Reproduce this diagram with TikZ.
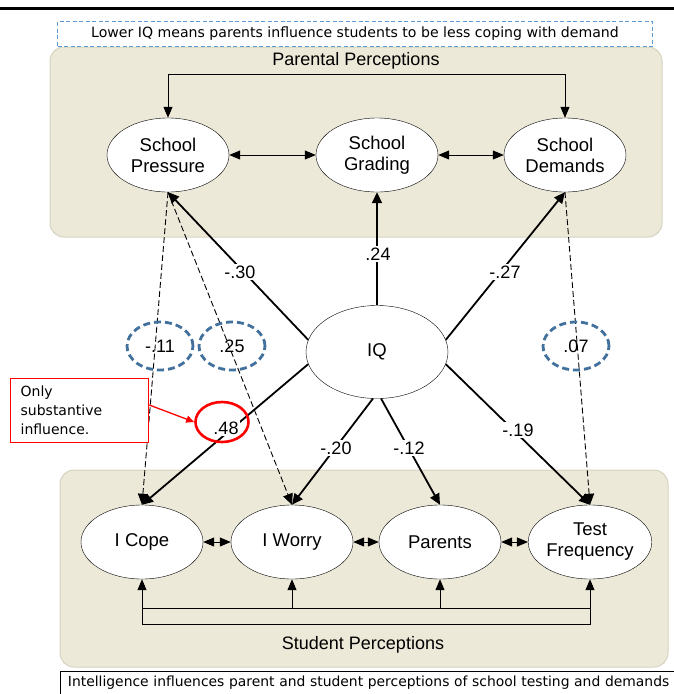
\documentclass[tikz,border=0pt]{standalone}
\usepackage{fontspec}
\setmainfont{Liberation Sans}
\newfontfamily\capfont{DejaVu Sans}
\usetikzlibrary{arrows.meta,shapes,positioning,backgrounds}

\definecolor{panel}{RGB}{236,233,216}
\definecolor{panelline}{RGB}{214,211,192}
\definecolor{boxblue}{RGB}{91,155,213}
\definecolor{ringblue}{RGB}{65,113,156}

\tikzset{
  latent/.style={ellipse, draw, fill=white, inner sep=0pt, minimum width=122pt,
    minimum height=74pt, align=center, font=\fontsize{18.5}{21}\selectfont},
  coef/.style={fill=white, inner sep=1.5pt, font=\fontsize{18}{20}\selectfont},
  ring/.style={ellipse, draw=ringblue, line width=2.8pt, dash pattern=on 7pt off 4pt,
    minimum width=66pt, minimum height=48pt, font=\fontsize{18}{20}\selectfont},
  path/.style={line width=1.8pt, -{Triangle[length=11pt,width=10pt]}},
  weak/.style={line width=0.9pt, dash pattern=on 6pt off 3pt, -{Triangle[length=11pt,width=10pt]}},
  cov/.style={line width=1pt, {Triangle[length=11pt,width=9pt]}-{Triangle[length=11pt,width=9pt]}},
  group/.style={fill=panel, draw=panelline, line width=1pt, rounded corners=14pt},
}

\begin{document}
\begin{tikzpicture}[x=1pt,y=-1pt]
  \useasboundingbox (0,0) rectangle (674,694);
  \draw[line width=3pt] (0,8) -- (674,8);

  % groups
  \draw[group] (50,47) rectangle (662,237);
  \draw[group] (60,470) rectangle (668,667);
  \node[font=\fontsize{18}{20}\selectfont] (parlabel) at (356,61) {Parental Perceptions};
  \node[font=\fontsize{18}{20}\selectfont] (stulabel) at (363,645) {Student Perceptions};

  \node[draw=boxblue, dash pattern=on 4pt off 2.5pt, line width=1.4pt, minimum width=595pt,
    minimum height=25pt, fill=white, font=\capfont\fontsize{14.1}{16}\selectfont] (topnote)
    at (355,34) {Lower IQ means parents influence students to be less coping with demand};

  \node[latent] (sp) at (168,155) {School\\Pressure};
  \node[latent] (sg) at (377,155) {School\\Grading};
  \node[latent] (sd) at (565,155) {School\\Demands};
  \node[latent, minimum width=142pt, minimum height=93pt] (iq) at (377,352) {IQ};
  \node[latent] (cope) at (142,542) {I Cope};
  \node[latent] (worry) at (292,542) {I Worry};
  \node[latent] (parents) at (440,542) {Parents};
  \node[latent] (tf) at (590,542) {Test\\Frequency};

  \draw[cov] (sp.north) -- ++(0,-43) -| (sd.north);
  \draw[cov] (sp) -- (sg);
  \draw[cov] (sg) -- (sd);
  \draw[cov] (cope) -- (worry);
  \draw[cov] (worry) -- (parents);
  \draw[cov] (parents) -- (tf);

  \coordinate (busL) at (142,608);
  \coordinate (busR) at (590,608);
  \draw[cov] (cope.south) -- ++(0,45) -| (tf.south);
  \draw[line width=1pt] (busL) -- (busR);
  \draw[line width=1pt, -{Triangle[length=11pt,width=9pt]}] (worry.south |- busL) -- (worry.south);
  \draw[line width=1pt, -{Triangle[length=11pt,width=9pt]}] (parents.south |- busL) -- (parents.south);

  \draw[weak] (sp.south) -- (cope.north);
  \draw[weak] (sp.south) -- (worry.north);
  \draw[weak] (sd.south) -- (tf.north);

  \draw[path] (iq.170) -- (sp.south);
  \draw[path] (iq.north) -- (sg.south);
  \draw[path] (iq.10) -- (sd.south);
  \draw[path] (iq.190) -- (cope.north);
  \draw[path] (iq.265) -- (worry.north);
  \draw[path] (iq.275) -- (parents.north);
  \draw[path] (iq.350) -- (tf.north);

  \node[coef] (c30) at (240,272) {-.30};
  \node[coef] (c24) at (378,254) {.24};
  \node[coef] (c27) at (505,272) {-.27};
  \node[coef] (c20) at (336,448) {-.20};
  \node[coef] (c12) at (409,448) {-.12};
  \node[coef] (c19) at (518,430) {-.19};
  \node[coef] (c48) at (226,428) {.48};

  \node[ring] (r11) at (160,346) {-.11};
  \node[ring] (r25) at (232,346) {.25};
  \node[ring] (r07) at (576,346) {.07};

  % highlight
  \node[ellipse, draw=red, line width=2.6pt, minimum width=53pt, minimum height=40pt] (hl) at (222,422) {};
  \node[draw=red, line width=1.3pt, fill=white, anchor=north west, minimum width=138pt,
    minimum height=64pt, text width=118pt, align=left,
    font=\capfont\fontsize{14}{19}\selectfont] (note) at (10,378)
    {Only\\substantive\\influence.};
  \draw[red, line width=1.3pt, -{Triangle[length=8pt,width=7pt]}] (note.east |- 0,405) -- (hl.west);

  \node[draw, line width=0.8pt, fill=white, anchor=north west, minimum width=640pt,
    minimum height=23pt, text width=625pt, align=left, inner xsep=5pt,
    font=\capfont\fontsize{13.9}{16}\selectfont] (botnote) at (60,671)
    {Intelligence influences parent and student perceptions of school testing and demands};
\end{tikzpicture}
\end{document}
